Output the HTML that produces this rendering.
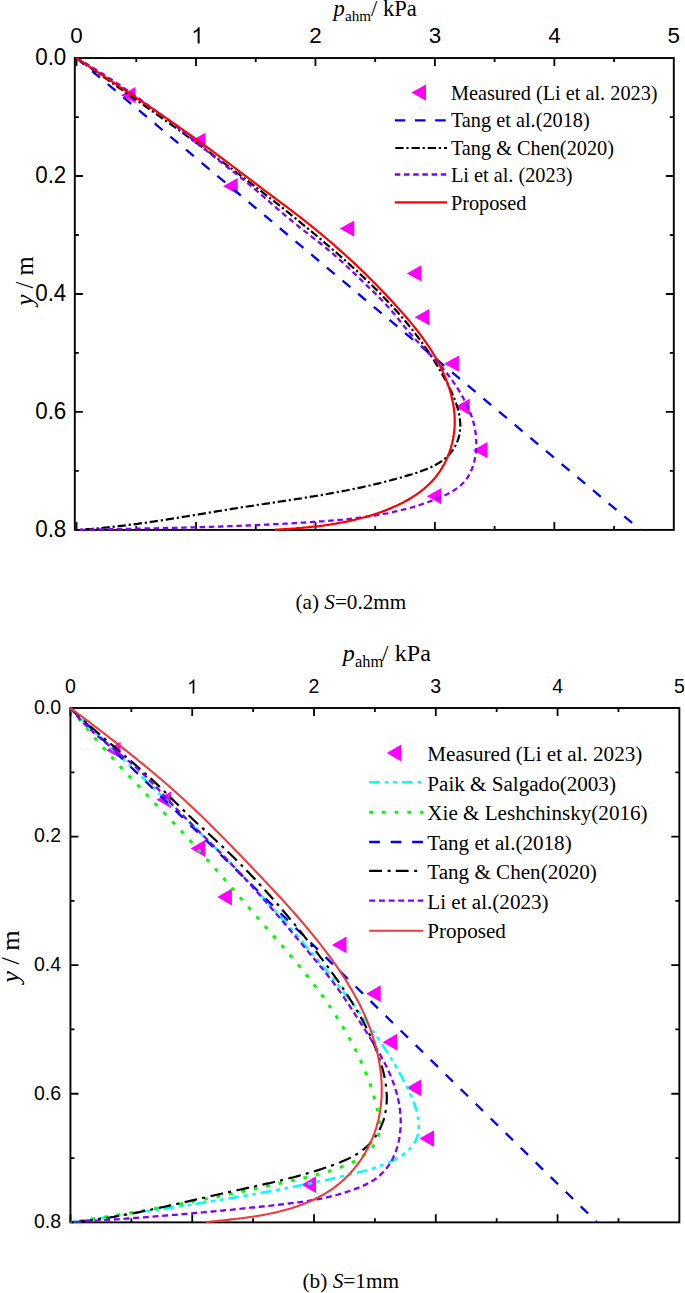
<!DOCTYPE html>
<html><head><meta charset="utf-8"><style>
html,body{margin:0;padding:0;background:#fff;width:685px;height:1293px;overflow:hidden}
svg{display:block}
.s{font-family:"Liberation Sans",sans-serif;fill:#000}
.r{font-family:"Liberation Serif",serif;fill:#000}
</style></head><body>
<svg width="685" height="1293" viewBox="0 0 685 1293">
<rect x="74.8" y="58.05" width="599" height="471.85" fill="none" stroke="#000" stroke-width="1.9"/>
<path d="M76.55 58.05v8M76.55 529.9v-8M136.28 58.05v4M136.28 529.9v-4M196 58.05v8M196 529.9v-8M255.73 58.05v4M255.73 529.9v-4M315.45 58.05v8M315.45 529.9v-8M375.18 58.05v4M375.18 529.9v-4M434.9 58.05v8M434.9 529.9v-8M494.62 58.05v4M494.62 529.9v-4M554.35 58.05v8M554.35 529.9v-8M614.07 58.05v4M614.07 529.9v-4M74.8 117.03h4M673.8 117.03h-4M74.8 176.01h8M673.8 176.01h-8M74.8 234.99h4M673.8 234.99h-4M74.8 293.98h8M673.8 293.98h-8M74.8 352.96h4M673.8 352.96h-4M74.8 411.94h8M673.8 411.94h-8M74.8 470.92h4M673.8 470.92h-4" stroke="#000" stroke-width="1.80" fill="none"/>
<text transform="translate(76.55 43.4) scale(1 1.0)" text-anchor="middle" class="s" font-size="22.4">0</text>
<path transform="translate(191.27 43.4) scale(0.01094 -0.01094)" d="M763 0H583V1147Q518 1085 412.5 1023Q307 961 223 930V1104Q374 1175 487 1276Q600 1377 647 1472H763V0Z"/>
<text transform="translate(315.45 43.4) scale(1 1.0)" text-anchor="middle" class="s" font-size="22.4">2</text>
<text transform="translate(434.9 43.4) scale(1 1.0)" text-anchor="middle" class="s" font-size="22.4">3</text>
<text transform="translate(554.35 43.4) scale(1 1.0)" text-anchor="middle" class="s" font-size="22.4">4</text>
<text transform="translate(673.8 43.4) scale(1 1.0)" text-anchor="middle" class="s" font-size="22.4">5</text>
<text transform="translate(66.3 64.95) scale(1 1.08)" text-anchor="end" class="s" font-size="22.4">0.0</text>
<text transform="translate(66.3 182.91) scale(1 1.08)" text-anchor="end" class="s" font-size="22.4">0.2</text>
<text transform="translate(66.3 300.88) scale(1 1.08)" text-anchor="end" class="s" font-size="22.4">0.4</text>
<text transform="translate(66.3 418.84) scale(1 1.08)" text-anchor="end" class="s" font-size="22.4">0.6</text>
<text transform="translate(66.3 536.8) scale(1 1.08)" text-anchor="end" class="s" font-size="22.4">0.8</text>
<rect x="70.45" y="708" width="608.9" height="514.35" fill="none" stroke="#000" stroke-width="1.9"/>
<path d="M70.45 708v8M70.45 1222.35v-8M131.34 708v4M131.34 1222.35v-4M192.23 708v8M192.23 1222.35v-8M253.12 708v4M253.12 1222.35v-4M314.01 708v8M314.01 1222.35v-8M374.9 708v4M374.9 1222.35v-4M435.79 708v8M435.79 1222.35v-8M496.68 708v4M496.68 1222.35v-4M557.57 708v8M557.57 1222.35v-8M618.46 708v4M618.46 1222.35v-4M70.45 772.29h4M679.35 772.29h-4M70.45 836.59h8M679.35 836.59h-8M70.45 900.88h4M679.35 900.88h-4M70.45 965.17h8M679.35 965.17h-8M70.45 1029.47h4M679.35 1029.47h-4M70.45 1093.76h8M679.35 1093.76h-8M70.45 1158.06h4M679.35 1158.06h-4" stroke="#000" stroke-width="1.80" fill="none"/>
<text transform="translate(70.45 693.4) scale(1 1.0)" text-anchor="middle" class="s" font-size="19.5">0</text>
<path transform="translate(187.11 693.4) scale(0.00952 -0.00952)" d="M763 0H583V1147Q518 1085 412.5 1023Q307 961 223 930V1104Q374 1175 487 1276Q600 1377 647 1472H763V0Z"/>
<text transform="translate(314.01 693.4) scale(1 1.0)" text-anchor="middle" class="s" font-size="19.5">2</text>
<text transform="translate(435.79 693.4) scale(1 1.0)" text-anchor="middle" class="s" font-size="19.5">3</text>
<text transform="translate(557.57 693.4) scale(1 1.0)" text-anchor="middle" class="s" font-size="19.5">4</text>
<text transform="translate(679.35 693.4) scale(1 1.0)" text-anchor="middle" class="s" font-size="19.5">5</text>
<text transform="translate(61 713.8) scale(1 1.0)" text-anchor="end" class="s" font-size="19.5">0.0</text>
<text transform="translate(61 842.39) scale(1 1.0)" text-anchor="end" class="s" font-size="19.5">0.2</text>
<text transform="translate(61 970.97) scale(1 1.0)" text-anchor="end" class="s" font-size="19.5">0.4</text>
<text transform="translate(61 1099.56) scale(1 1.0)" text-anchor="end" class="s" font-size="19.5">0.6</text>
<text transform="translate(61 1228.15) scale(1 1.0)" text-anchor="end" class="s" font-size="19.5">0.8</text>
<text x="333.5" y="15.8" class="r" font-size="22.6" font-style="italic">p</text>
<text x="345" y="21.4" class="r" font-size="15.2">ahm</text>
<text x="371" y="15.8" class="r" font-size="22.6">/</text>
<text x="383" y="15.8" class="r" font-size="22.6">kPa</text>
<text x="342.8" y="660.6" class="r" font-size="24.1" font-style="italic">p</text>
<text x="355" y="666.5" class="r" font-size="16.4">ahm</text>
<text x="381.7" y="660.6" class="r" font-size="24.1">/</text>
<text x="394.7" y="660.6" class="r" font-size="24.1">kPa</text>
<text transform="translate(32.8 281) rotate(-90)" text-anchor="middle" class="r" font-size="24.5"><tspan font-style="italic">y</tspan> / m</text>
<text transform="translate(19 956.5) rotate(-90)" text-anchor="middle" class="r" font-size="26.2"><tspan font-style="italic">y</tspan> / m</text>
<text x="295.5" y="608.9" class="r" font-size="21.2">(a) <tspan font-style="italic">S</tspan>=0.2mm</text>
<text x="302.5" y="1288.2" class="r" font-size="21.3">(b) <tspan font-style="italic">S</tspan>=1mm</text>
<text x="450.9" y="100" class="r" font-size="20.3">Measured (Li et al. 2023)</text>
<text x="450.9" y="127.38" class="r" font-size="20.3">Tang et al.(2018)</text>
<text x="450.9" y="154.76" class="r" font-size="20.3">Tang &amp; Chen(2020)</text>
<text x="450.9" y="182.14" class="r" font-size="20.3">Li et al. (2023)</text>
<text x="450.9" y="209.52" class="r" font-size="20.3">Proposed</text>
<text x="427.3" y="761.3" class="r" font-size="21.1">Measured (Li et al. 2023)</text>
<text x="427.3" y="790.78" class="r" font-size="21.1">Paik &amp; Salgado(2003)</text>
<text x="427.3" y="820.26" class="r" font-size="21.1">Xie &amp; Leshchinsky(2016)</text>
<text x="427.3" y="849.74" class="r" font-size="21.1">Tang et al.(2018)</text>
<text x="427.3" y="879.22" class="r" font-size="21.1">Tang &amp; Chen(2020)</text>
<text x="427.3" y="908.7" class="r" font-size="21.1">Li et al.(2023)</text>
<text x="427.3" y="938.18" class="r" font-size="21.1">Proposed</text>
<path d="M120.9 95.2L135.5 87.05L135.5 103.35ZM190.9 140.8L205.5 132.65L205.5 148.95ZM223.1 186.2L237.7 178.05L237.7 194.35ZM339.7 228.6L354.3 220.45L354.3 236.75ZM406.8 273.4L421.4 265.25L421.4 281.55ZM414.7 317.2L429.3 309.05L429.3 325.35ZM444.3 363.7L458.9 355.55L458.9 371.85ZM455.2 406.8L469.8 398.65L469.8 414.95ZM472.9 450.2L487.5 442.05L487.5 458.35ZM426.8 496.2L441.4 488.05L441.4 504.35Z" fill="#FF00FF"/>
<path d="M76.6 58.1L640.5 530" fill="none" stroke="#0000FF" stroke-width="2.3" stroke-dasharray="10.2 10.21" stroke-dashoffset="0.2" stroke-linecap="butt"/>
<path d="M76.6,58.1 78.6,59.5 80.5,60.9 82.5,62.2 84.5,63.6 86.4,65.0 88.4,66.4 90.4,67.7 92.3,69.1 94.3,70.5 96.3,71.9 98.2,73.2 100.2,74.6 102.2,76.0 104.1,77.4 106.1,78.7 108.1,80.1 110.0,81.5 112.0,82.9 113.9,84.2 115.9,85.6 117.9,87.0 119.8,88.4 121.8,89.7 123.8,91.1 125.7,92.5 127.7,93.9 129.7,95.3 131.6,96.6 133.6,98.0 135.6,99.4 137.5,100.8 139.5,102.2 141.4,103.5 143.4,104.9 145.4,106.3 147.3,107.7 149.3,109.1 151.2,110.5 153.2,111.8 155.2,113.2 157.1,114.6 159.1,116.0 161.0,117.4 163.0,118.8 164.9,120.2 166.9,121.6 168.8,123.0 170.8,124.3 172.7,125.7 174.7,127.1 176.7,128.5 178.6,129.9 180.6,131.3 182.5,132.7 184.4,134.1 186.4,135.5 188.3,136.9 190.3,138.3 192.2,139.7 194.2,141.2 196.1,142.6 198.1,144.0 200.0,145.4 201.9,146.8 203.9,148.2 205.8,149.6 207.7,151.0 209.7,152.5 211.6,153.9 213.5,155.3 215.5,156.7 217.4,158.1 219.3,159.6 221.3,161.0 223.2,162.4 225.1,163.9 227.0,165.3 229.0,166.7 230.9,168.2 232.8,169.6 234.7,171.0 236.6,172.5 238.6,173.9 240.5,175.4 242.4,176.8 244.3,178.3 246.2,179.7 248.1,181.2 250.0,182.6 251.9,184.1 253.8,185.5 255.7,187.0 257.6,188.5 259.5,189.9 261.4,191.4 263.3,192.9 265.2,194.3 267.1,195.8 269.0,197.3 270.9,198.8 272.8,200.2 274.7,201.7 276.5,203.2 278.4,204.7 280.3,206.2 282.2,207.7 284.1,209.2 285.9,210.7 287.8,212.2 289.7,213.7 291.5,215.2 293.4,216.7 295.3,218.2 297.1,219.7 299.0,221.2 300.9,222.8 302.7,224.3 304.6,225.8 306.4,227.3 308.3,228.9 310.1,230.4 312.0,231.9 313.8,233.5 315.7,235.0 317.5,236.6 319.3,238.1 321.2,239.6 323.0,241.2 324.8,242.8 326.7,244.3 328.5,245.9 330.3,247.4 332.1,249.0 333.9,250.6 335.8,252.2 337.6,253.7 339.4,255.3 341.2,256.9 343.0,258.5 344.8,260.1 346.6,261.7 348.4,263.3 350.2,264.9 351.9,266.5 353.7,268.1 355.5,269.8 357.3,271.4 359.0,273.0 360.8,274.7 362.5,276.3 364.3,277.9 366.0,279.6 367.7,281.3 369.5,282.9 371.2,284.6 372.9,286.3 374.6,288.0 376.3,289.6 378.0,291.3 379.7,293.0 381.4,294.8 383.0,296.5 384.7,298.2 386.3,299.9 388.0,301.7 389.6,303.4 391.2,305.2 392.9,306.9 394.5,308.7 396.1,310.5 397.7,312.3 399.2,314.1 400.8,315.9 402.4,317.7 403.9,319.5 405.4,321.3 407.0,323.2 408.5,325.0 410.0,326.9 411.5,328.7 413.0,330.6 414.4,332.5 415.9,334.4 417.3,336.3 418.8,338.2 420.2,340.1 421.6,342.0 423.0,344.0 424.4,345.9 425.7,347.9 427.1,349.9 428.4,351.9 429.8,353.9 431.1,355.9 432.4,357.9 433.7,359.9 434.9,361.9 436.2,364.0 437.4,366.0 438.7,368.1 439.9,370.1 441.1,372.2 442.3,374.3 443.4,376.4 444.6,378.5 445.7,380.6 446.9,382.7 448.0,384.8 449.1,387.0 450.1,389.1 451.2,391.3 452.2,393.5 453.1,395.8 454.1,398.0 455.0,400.3 455.8,402.6 456.6,404.9 457.4,407.2 458.1,409.6 458.6,412.0 459.2,414.3 459.6,416.7 459.9,419.1 460.1,421.5 460.3,423.9 460.3,426.3 460.2,428.7 459.9,431.1 459.6,433.5 459.1,435.8 458.5,438.1 457.8,440.3 456.9,442.5 456.0,444.7 454.9,446.7 453.7,448.7 452.4,450.7 450.9,452.5 449.4,454.3 447.9,455.9 446.2,457.5 444.4,459.0 442.6,460.4 440.7,461.8 438.7,463.0 436.7,464.2 434.7,465.4 432.5,466.4 430.4,467.5 428.2,468.4 425.9,469.4 423.6,470.2 421.3,471.1 419.0,471.9 416.7,472.7 414.3,473.4 412.0,474.2 409.6,474.9 407.3,475.6 404.9,476.3 402.5,477.0 400.2,477.7 397.8,478.3 395.5,479.0 393.1,479.6 390.8,480.3 388.4,480.9 386.0,481.5 383.7,482.1 381.3,482.7 379.0,483.3 376.6,483.8 374.3,484.4 371.9,484.9 369.6,485.5 367.2,486.0 364.9,486.5 362.5,487.1 360.2,487.6 357.8,488.1 355.5,488.6 353.1,489.0 350.8,489.5 348.4,490.0 346.1,490.5 343.7,490.9 341.4,491.4 339.0,491.8 336.7,492.3 334.3,492.7 332.0,493.1 329.6,493.5 327.3,494.0 324.9,494.4 322.6,494.8 320.2,495.2 317.9,495.6 315.5,496.0 313.2,496.4 310.8,496.7 308.5,497.1 306.1,497.5 303.8,497.9 301.4,498.3 299.1,498.6 296.7,499.0 294.4,499.4 292.0,499.7 289.7,500.1 287.3,500.4 285.0,500.8 282.6,501.2 280.3,501.5 277.9,501.9 275.6,502.2 273.2,502.6 270.9,502.9 268.5,503.3 266.1,503.6 263.8,504.0 261.4,504.3 259.1,504.7 256.7,505.1 254.3,505.4 252.0,505.8 249.6,506.1 247.3,506.5 244.9,506.9 242.5,507.2 240.2,507.6 237.8,508.0 235.4,508.4 233.1,508.7 230.7,509.1 228.3,509.5 226.0,509.9 223.6,510.3 221.2,510.7 218.8,511.0 216.5,511.4 214.1,511.8 211.7,512.2 209.3,512.6 207.0,513.0 204.6,513.4 202.2,513.8 199.8,514.2 197.5,514.6 195.1,515.0 192.7,515.4 190.3,515.7 187.9,516.1 185.6,516.5 183.2,516.9 180.8,517.3 178.4,517.7 176.0,518.1 173.6,518.4 171.3,518.8 168.9,519.2 166.5,519.6 164.1,519.9 161.7,520.3 159.4,520.7 157.0,521.0 154.6,521.4 152.2,521.7 149.8,522.1 147.4,522.4 145.0,522.8 142.7,523.1 140.3,523.4 137.9,523.8 135.5,524.1 133.1,524.4 130.7,524.7 128.4,525.0 126.0,525.3 123.6,525.6 121.2,525.9 118.8,526.2 116.4,526.5 114.1,526.7 111.7,527.0 109.3,527.2 106.9,527.5 104.5,527.7 102.2,528.0 99.8,528.2 97.4,528.4 95.0,528.6 92.6,528.8 90.3,529.0 87.9,529.2 85.5,529.4 83.1,529.5 80.8,529.7 78.4,529.9 76.0,530.0" fill="none" stroke="#000" stroke-width="2.2" stroke-dasharray="8.3 2.8 2.2 2.9" stroke-linecap="butt" stroke-linejoin="round"/>
<path d="M76.6,58.1 78.8,59.4 81.0,60.6 83.1,61.9 85.3,63.2 87.5,64.5 89.6,65.8 91.8,67.1 93.9,68.4 96.1,69.8 98.2,71.1 100.3,72.4 102.5,73.8 104.6,75.1 106.7,76.5 108.8,77.9 110.9,79.2 113.0,80.6 115.1,82.0 117.2,83.4 119.3,84.8 121.4,86.2 123.4,87.6 125.5,89.1 127.6,90.5 129.6,91.9 131.7,93.4 133.7,94.8 135.8,96.3 137.8,97.7 139.9,99.2 141.9,100.6 144.0,102.1 146.0,103.6 148.0,105.1 150.0,106.6 152.1,108.1 154.1,109.6 156.1,111.1 158.1,112.6 160.1,114.1 162.1,115.6 164.1,117.1 166.1,118.6 168.1,120.2 170.1,121.7 172.1,123.2 174.1,124.8 176.1,126.3 178.0,127.9 180.0,129.4 182.0,131.0 184.0,132.5 185.9,134.1 187.9,135.7 189.9,137.2 191.8,138.8 193.8,140.4 195.8,141.9 197.7,143.5 199.7,145.1 201.6,146.7 203.6,148.3 205.5,149.9 207.5,151.4 209.4,153.0 211.4,154.6 213.3,156.2 215.3,157.7 217.3,159.3 219.3,160.8 221.3,162.4 223.3,163.9 225.3,165.4 227.2,167.0 229.2,168.5 231.2,170.0 233.2,171.6 235.2,173.1 237.2,174.7 239.2,176.2 241.1,177.8 243.1,179.4 245.0,181.0 247.0,182.6 248.9,184.2 250.8,185.8 252.7,187.4 254.7,189.1 256.6,190.7 258.5,192.3 260.4,194.0 262.3,195.6 264.2,197.2 266.1,198.9 268.0,200.5 269.9,202.2 271.8,203.8 273.7,205.5 275.6,207.1 277.5,208.8 279.4,210.4 281.3,212.0 283.2,213.7 285.1,215.3 287.1,216.9 289.0,218.5 290.9,220.1 292.8,221.7 294.8,223.3 296.7,224.9 298.7,226.5 300.6,228.1 302.6,229.6 304.6,231.2 306.6,232.7 308.5,234.2 310.5,235.8 312.5,237.3 314.5,238.8 316.5,240.4 318.5,241.9 320.5,243.5 322.4,245.0 324.4,246.6 326.3,248.2 328.3,249.8 330.2,251.4 332.1,253.0 334.0,254.6 335.9,256.3 337.8,258.0 339.6,259.6 341.5,261.3 343.3,263.0 345.2,264.7 347.0,266.5 348.8,268.2 350.7,269.9 352.5,271.7 354.3,273.4 356.1,275.2 357.9,276.9 359.7,278.6 361.6,280.4 363.4,282.1 365.2,283.9 367.0,285.6 368.8,287.4 370.7,289.1 372.5,290.9 374.3,292.6 376.1,294.4 377.8,296.2 379.6,297.9 381.4,299.7 383.1,301.5 384.8,303.4 386.6,305.2 388.2,307.0 389.9,308.9 391.6,310.8 393.2,312.7 394.8,314.6 396.4,316.6 398.0,318.5 399.5,320.5 401.1,322.4 402.7,324.4 404.2,326.4 405.8,328.3 407.4,330.2 409.0,332.2 410.6,334.1 412.3,335.9 414.0,337.8 415.7,339.7 417.4,341.5 419.1,343.3 420.8,345.1 422.6,346.9 424.3,348.7 426.1,350.5 427.9,352.3 429.6,354.1 431.4,355.9 433.1,357.7 434.8,359.5 436.6,361.3 438.3,363.2 440.0,365.0 441.6,366.9 443.2,368.8 444.9,370.8 446.4,372.7 448.0,374.7 449.5,376.7 451.0,378.7 452.5,380.8 453.9,382.9 455.3,385.0 456.7,387.1 458.1,389.2 459.4,391.3 460.7,393.5 461.9,395.7 463.2,397.9 464.3,400.1 465.5,402.3 466.6,404.5 467.7,406.8 468.7,409.1 469.7,411.4 470.6,413.7 471.5,416.0 472.3,418.4 473.0,420.8 473.7,423.2 474.3,425.6 474.8,428.1 475.2,430.6 475.6,433.1 475.9,435.7 476.1,438.2 476.2,440.7 476.3,443.3 476.3,445.8 476.2,448.4 476.0,451.0 475.7,453.5 475.3,456.1 474.9,458.6 474.4,461.1 473.7,463.5 473.0,466.0 472.2,468.3 471.2,470.6 470.2,472.9 469.0,475.1 467.8,477.1 466.4,479.1 464.9,481.0 463.3,482.8 461.6,484.5 459.7,486.2 457.8,487.7 455.8,489.1 453.8,490.5 451.6,491.8 449.4,493.0 447.2,494.2 444.9,495.3 442.6,496.4 440.2,497.4 437.9,498.4 435.5,499.3 433.1,500.3 430.7,501.2 428.3,502.0 425.9,502.9 423.5,503.7 421.1,504.5 418.7,505.3 416.3,506.0 413.9,506.8 411.5,507.5 409.1,508.1 406.6,508.8 404.2,509.4 401.7,510.0 399.3,510.6 396.9,511.2 394.4,511.7 392.0,512.3 389.5,512.8 387.0,513.3 384.6,513.7 382.1,514.2 379.6,514.6 377.2,515.1 374.7,515.5 372.2,515.9 369.7,516.2 367.2,516.6 364.8,517.0 362.3,517.3 359.8,517.6 357.3,517.9 354.8,518.2 352.3,518.5 349.8,518.8 347.3,519.1 344.8,519.3 342.3,519.6 339.8,519.8 337.3,520.0 334.8,520.2 332.3,520.5 329.8,520.7 327.3,520.9 324.8,521.1 322.3,521.3 319.7,521.4 317.2,521.6 314.7,521.8 312.2,522.0 309.7,522.1 307.2,522.3 304.7,522.5 302.2,522.6 299.7,522.8 297.2,523.0 294.6,523.1 292.1,523.3 289.6,523.4 287.1,523.6 284.6,523.7 282.1,523.8 279.6,524.0 277.1,524.1 274.6,524.2 272.0,524.4 269.5,524.5 267.0,524.6 264.5,524.7 262.0,524.9 259.5,525.0 257.0,525.1 254.5,525.2 251.9,525.3 249.4,525.4 246.9,525.5 244.4,525.6 241.9,525.7 239.4,525.8 236.9,525.9 234.4,526.0 231.8,526.1 229.3,526.2 226.8,526.3 224.3,526.4 221.8,526.5 219.3,526.6 216.8,526.6 214.3,526.7 211.7,526.8 209.2,526.9 206.7,527.0 204.2,527.0 201.7,527.1 199.2,527.2 196.7,527.3 194.1,527.3 191.6,527.4 189.1,527.5 186.6,527.5 184.1,527.6 181.6,527.7 179.1,527.7 176.6,527.8 174.0,527.8 171.5,527.9 169.0,528.0 166.5,528.0 164.0,528.1 161.5,528.1 159.0,528.2 156.4,528.3 153.9,528.3 151.4,528.4 148.9,528.4 146.4,528.5 143.9,528.5 141.4,528.6 138.8,528.6 136.3,528.7 133.8,528.8 131.3,528.8 128.8,528.9 126.3,528.9 123.8,529.0 121.2,529.0 118.7,529.1 116.2,529.1 113.7,529.2 111.2,529.2 108.7,529.3 106.2,529.3 103.7,529.4 101.1,529.4 98.6,529.5 96.1,529.5 93.6,529.6 91.1,529.7 88.6,529.7 86.1,529.8 83.5,529.8 81.0,529.9 78.5,529.9 76.0,530.0" fill="none" stroke="#8000FF" stroke-width="2.3" stroke-dasharray="5.5 3.7" stroke-linecap="butt" stroke-linejoin="round"/>
<path d="M76.6,58.1 78.2,59.2 79.8,60.2 81.4,61.3 83.0,62.4 84.7,63.4 86.3,64.5 87.9,65.6 89.5,66.6 91.1,67.7 92.7,68.8 94.3,69.9 95.9,70.9 97.5,72.0 99.2,73.1 100.8,74.1 102.4,75.2 104.0,76.3 105.6,77.3 107.2,78.4 108.8,79.5 110.4,80.5 112.1,81.6 113.7,82.7 115.3,83.7 116.9,84.8 118.5,85.9 120.1,87.0 121.7,88.0 123.3,89.1 124.9,90.2 126.5,91.3 128.2,92.3 129.8,93.4 131.4,94.5 133.0,95.6 134.6,96.6 136.2,97.7 137.8,98.8 139.4,99.9 141.0,101.0 142.6,102.0 144.2,103.1 145.8,104.2 147.4,105.3 149.0,106.4 150.6,107.5 152.2,108.5 153.8,109.6 155.4,110.7 157.0,111.8 158.6,112.9 160.2,114.0 161.8,115.1 163.4,116.2 165.0,117.3 166.6,118.4 168.2,119.5 169.8,120.6 171.3,121.7 172.9,122.8 174.5,123.9 176.1,125.0 177.7,126.1 179.3,127.2 180.8,128.3 182.4,129.4 184.0,130.6 185.6,131.7 187.2,132.8 188.7,133.9 190.3,135.0 191.9,136.2 193.5,137.3 195.0,138.4 196.6,139.5 198.2,140.7 199.7,141.8 201.3,142.9 202.8,144.1 204.4,145.2 206.0,146.4 207.5,147.5 209.1,148.6 210.6,149.8 212.2,150.9 213.7,152.1 215.3,153.2 216.8,154.4 218.4,155.5 219.9,156.7 221.5,157.9 223.0,159.0 224.6,160.2 226.1,161.3 227.7,162.5 229.2,163.7 230.8,164.8 232.3,166.0 233.8,167.2 235.4,168.3 236.9,169.5 238.5,170.6 240.0,171.8 241.5,173.0 243.1,174.2 244.6,175.3 246.2,176.5 247.7,177.7 249.3,178.8 250.8,180.0 252.3,181.2 253.9,182.3 255.4,183.5 257.0,184.7 258.5,185.8 260.1,187.0 261.6,188.2 263.1,189.3 264.7,190.5 266.2,191.7 267.8,192.8 269.3,194.0 270.9,195.1 272.4,196.3 274.0,197.5 275.5,198.6 277.1,199.8 278.7,200.9 280.2,202.1 281.8,203.3 283.3,204.4 284.9,205.6 286.4,206.7 288.0,207.9 289.5,209.1 291.1,210.2 292.6,211.4 294.1,212.6 295.7,213.8 297.2,214.9 298.8,216.1 300.3,217.3 301.8,218.5 303.3,219.7 304.9,220.9 306.4,222.1 307.9,223.3 309.4,224.5 310.9,225.7 312.4,226.9 313.9,228.1 315.4,229.3 316.9,230.6 318.4,231.8 319.9,233.0 321.4,234.2 322.9,235.5 324.3,236.7 325.8,238.0 327.3,239.2 328.7,240.5 330.2,241.7 331.7,243.0 333.1,244.2 334.6,245.5 336.0,246.8 337.5,248.1 338.9,249.3 340.4,250.6 341.8,251.9 343.3,253.2 344.7,254.5 346.1,255.8 347.5,257.1 349.0,258.4 350.4,259.7 351.8,261.0 353.2,262.3 354.6,263.6 356.0,264.9 357.4,266.3 358.8,267.6 360.2,268.9 361.6,270.3 363.0,271.6 364.4,272.9 365.8,274.3 367.1,275.6 368.5,277.0 369.9,278.4 371.3,279.7 372.6,281.1 374.0,282.5 375.3,283.8 376.7,285.2 378.0,286.6 379.4,288.0 380.7,289.4 382.1,290.8 383.4,292.2 384.8,293.6 386.1,295.0 387.4,296.4 388.7,297.8 390.1,299.2 391.4,300.6 392.7,302.0 394.0,303.5 395.3,304.9 396.6,306.3 397.9,307.8 399.2,309.2 400.5,310.7 401.8,312.1 403.1,313.6 404.4,315.0 405.6,316.5 406.9,318.0 408.1,319.5 409.4,320.9 410.6,322.4 411.9,323.9 413.1,325.4 414.3,326.9 415.5,328.5 416.7,330.0 417.9,331.5 419.1,333.0 420.3,334.6 421.4,336.1 422.6,337.7 423.7,339.3 424.8,340.8 425.9,342.4 427.0,344.0 428.1,345.6 429.2,347.2 430.2,348.8 431.3,350.5 432.3,352.1 433.3,353.8 434.3,355.4 435.3,357.1 436.2,358.8 437.2,360.5 438.1,362.2 439.0,363.9 439.9,365.6 440.7,367.3 441.6,369.1 442.4,370.8 443.2,372.6 444.0,374.4 444.8,376.2 445.5,378.0 446.2,379.8 446.9,381.6 447.6,383.4 448.3,385.3 448.9,387.1 449.5,389.0 450.0,390.8 450.6,392.7 451.1,394.6 451.6,396.5 452.0,398.4 452.4,400.3 452.8,402.2 453.2,404.1 453.5,406.0 453.8,407.9 454.0,409.8 454.2,411.8 454.4,413.7 454.6,415.6 454.7,417.5 454.7,419.5 454.7,421.4 454.7,423.3 454.7,425.3 454.6,427.2 454.4,429.1 454.2,431.0 454.0,433.0 453.7,434.9 453.4,436.8 453.1,438.7 452.7,440.6 452.3,442.5 451.8,444.3 451.3,446.2 450.8,448.1 450.2,449.9 449.6,451.7 449.0,453.5 448.3,455.3 447.5,457.1 446.8,458.8 446.0,460.6 445.1,462.3 444.3,464.0 443.3,465.6 442.4,467.3 441.4,468.9 440.4,470.5 439.3,472.1 438.2,473.6 437.1,475.2 435.9,476.7 434.7,478.1 433.5,479.5 432.2,480.9 430.9,482.3 429.6,483.7 428.2,485.0 426.8,486.3 425.4,487.5 423.9,488.8 422.4,490.0 420.9,491.2 419.4,492.3 417.9,493.5 416.3,494.6 414.7,495.6 413.0,496.7 411.4,497.7 409.7,498.7 408.1,499.7 406.4,500.7 404.6,501.6 402.9,502.6 401.2,503.5 399.4,504.3 397.6,505.2 395.8,506.0 394.0,506.8 392.2,507.6 390.4,508.4 388.6,509.1 386.7,509.9 384.9,510.6 383.0,511.3 381.2,512.0 379.3,512.6 377.5,513.3 375.6,513.9 373.7,514.5 371.9,515.1 370.0,515.7 368.1,516.2 366.2,516.8 364.4,517.3 362.5,517.8 360.6,518.3 358.7,518.8 356.8,519.3 355.0,519.7 353.1,520.2 351.2,520.6 349.3,521.0 347.4,521.4 345.5,521.8 343.6,522.2 341.7,522.5 339.8,522.9 337.9,523.2 336.0,523.6 334.1,523.9 332.2,524.2 330.3,524.5 328.4,524.8 326.5,525.0 324.6,525.3 322.7,525.6 320.8,525.8 318.9,526.1 317.0,526.3 315.0,526.5 313.1,526.7 311.2,526.9 309.3,527.1 307.4,527.3 305.5,527.5 303.6,527.7 301.6,527.9 299.7,528.0 297.8,528.2 295.9,528.4 294.0,528.5 292.0,528.7 290.1,528.8 288.2,528.9 286.3,529.1 284.3,529.2 282.4,529.3 280.5,529.4 278.6,529.6 276.6,529.7 274.7,529.8" fill="none" stroke="#FF0000" stroke-width="2.2" stroke-linecap="butt" stroke-linejoin="round"/>
<path d="M411.4 92.55L426 84.4L426 100.7Z" fill="#FF00FF"/>
<path d="M394.8 120.3L447 120.3" fill="none" stroke="#0000FF" stroke-width="2.3" stroke-dasharray="10.5 9.7" stroke-linecap="butt"/>
<path d="M395.3 148L447 148" fill="none" stroke="#000" stroke-width="2.2" stroke-dasharray="8.3 2.8 2.2 2.9" stroke-linecap="butt"/>
<path d="M394.8 174.5L447 174.5" fill="none" stroke="#8000FF" stroke-width="2.3" stroke-dasharray="5.5 3.7" stroke-linecap="butt"/>
<path d="M394.8 202.3L447 202.3" fill="none" stroke="#FF0000" stroke-width="2.2" stroke-linecap="butt"/>
<path d="M106 750.2L120.6 741.8L120.6 758.6ZM156.5 799.8L171.1 791.4L171.1 808.2ZM190.5 848.5L205.1 840.1L205.1 856.9ZM217.3 897L231.9 888.6L231.9 905.4ZM331.9 944.9L346.5 936.5L346.5 953.3ZM366.1 993.7L380.7 985.3L380.7 1002.1ZM382.6 1042.2L397.2 1033.8L397.2 1050.6ZM406.5 1087.8L421.1 1079.4L421.1 1096.2ZM419.5 1138.6L434.1 1130.2L434.1 1147ZM301.4 1184.7L316 1176.3L316 1193.1Z" fill="#FF00FF"/>
<path d="M70.6,708.1 72.2,709.7 73.9,711.4 75.5,713.0 77.2,714.7 78.8,716.3 80.5,717.9 82.1,719.6 83.8,721.2 85.4,722.8 87.1,724.4 88.7,726.1 90.4,727.7 92.0,729.3 93.7,730.9 95.4,732.5 97.0,734.1 98.7,735.8 100.4,737.4 102.0,739.0 103.7,740.6 105.4,742.2 107.0,743.8 108.7,745.4 110.4,747.0 112.0,748.6 113.7,750.2 115.4,751.8 117.1,753.4 118.7,755.0 120.4,756.6 122.1,758.2 123.8,759.8 125.5,761.4 127.1,763.0 128.8,764.6 130.5,766.2 132.2,767.8 133.9,769.4 135.5,771.0 137.2,772.6 138.9,774.2 140.6,775.8 142.3,777.4 143.9,779.0 145.6,780.6 147.3,782.2 149.0,783.7 150.7,785.3 152.4,786.9 154.0,788.5 155.7,790.1 157.4,791.7 159.1,793.3 160.7,794.9 162.4,796.5 164.1,798.1 165.8,799.7 167.5,801.3 169.1,802.9 170.8,804.5 172.5,806.1 174.2,807.7 175.8,809.3 177.5,810.9 179.2,812.5 180.8,814.1 182.5,815.7 184.2,817.3 185.9,818.9 187.5,820.5 189.2,822.1 190.8,823.8 192.5,825.4 194.2,827.0 195.8,828.6 197.5,830.2 199.1,831.8 200.8,833.5 202.5,835.1 204.1,836.7 205.8,838.3 207.4,840.0 209.0,841.6 210.7,843.2 212.3,844.9 214.0,846.5 215.6,848.1 217.3,849.8 218.9,851.4 220.5,853.1 222.2,854.7 223.8,856.3 225.4,858.0 227.0,859.7 228.7,861.3 230.3,863.0 231.9,864.6 233.5,866.3 235.1,868.0 236.7,869.6 238.3,871.3 239.9,873.0 241.5,874.6 243.1,876.3 244.7,878.0 246.3,879.7 247.9,881.4 249.5,883.0 251.1,884.7 252.7,886.4 254.3,888.1 255.9,889.8 257.5,891.5 259.0,893.2 260.6,894.9 262.2,896.6 263.8,898.3 265.3,900.0 266.9,901.7 268.4,903.5 270.0,905.2 271.6,906.9 273.1,908.6 274.7,910.3 276.2,912.1 277.8,913.8 279.3,915.5 280.9,917.2 282.4,919.0 284.0,920.7 285.5,922.4 287.0,924.2 288.6,925.9 290.1,927.7 291.6,929.4 293.1,931.2 294.7,932.9 296.2,934.7 297.7,936.4 299.2,938.2 300.7,939.9 302.2,941.7 303.7,943.5 305.2,945.2 306.7,947.0 308.2,948.8 309.7,950.5 311.2,952.3 312.7,954.1 314.2,955.9 315.7,957.6 317.2,959.4 318.6,961.2 320.1,963.0 321.6,964.8 323.1,966.6 324.5,968.3 326.0,970.1 327.5,971.9 328.9,973.7 330.4,975.5 331.8,977.3 333.3,979.1 334.7,980.9 336.2,982.7 337.6,984.6 339.1,986.4 340.5,988.2 342.0,990.0 343.4,991.8 344.8,993.6 346.3,995.4 347.7,997.3 349.1,999.1 350.5,1000.9 351.9,1002.7 353.4,1004.6 354.8,1006.4 356.2,1008.2 357.6,1010.1 359.0,1011.9 360.4,1013.8 361.7,1015.6 363.1,1017.5 364.5,1019.3 365.9,1021.2 367.2,1023.0 368.6,1024.9 369.9,1026.8 371.3,1028.7 372.6,1030.5 374.0,1032.4 375.3,1034.3 376.6,1036.2 377.9,1038.1 379.2,1040.0 380.5,1042.0 381.8,1043.9 383.1,1045.8 384.3,1047.8 385.6,1049.7 386.8,1051.7 388.1,1053.6 389.3,1055.6 390.5,1057.6 391.7,1059.5 392.9,1061.5 394.1,1063.5 395.3,1065.5 396.5,1067.5 397.6,1069.6 398.8,1071.6 399.9,1073.6 401.0,1075.7 402.1,1077.7 403.2,1079.8 404.3,1081.9 405.4,1084.0 406.4,1086.1 407.5,1088.2 408.5,1090.3 409.5,1092.4 410.5,1094.6 411.5,1096.7 412.4,1098.9 413.3,1101.1 414.1,1103.3 414.9,1105.5 415.6,1107.7 416.3,1109.9 416.9,1112.2 417.4,1114.5 417.9,1116.7 418.2,1119.0 418.5,1121.4 418.7,1123.7 418.7,1126.0 418.7,1128.3 418.5,1130.6 418.2,1132.8 417.7,1135.0 417.1,1137.1 416.4,1139.1 415.4,1141.1 414.4,1143.0 413.2,1144.8 411.9,1146.5 410.4,1148.2 408.9,1149.8 407.2,1151.3 405.5,1152.8 403.6,1154.2 401.7,1155.5 399.7,1156.8 397.7,1158.0 395.6,1159.1 393.4,1160.2 391.3,1161.3 389.1,1162.3 386.9,1163.2 384.7,1164.2 382.5,1165.0 380.3,1165.9 378.0,1166.7 375.8,1167.4 373.6,1168.2 371.4,1168.9 369.2,1169.5 366.9,1170.2 364.7,1170.8 362.5,1171.4 360.2,1172.0 358.0,1172.6 355.8,1173.1 353.5,1173.7 351.3,1174.2 349.1,1174.8 346.8,1175.3 344.6,1175.8 342.3,1176.3 340.1,1176.8 337.8,1177.3 335.6,1177.9 333.3,1178.4 331.1,1178.9 328.8,1179.4 326.6,1179.9 324.3,1180.4 322.1,1180.8 319.8,1181.3 317.5,1181.8 315.3,1182.3 313.0,1182.8 310.8,1183.2 308.5,1183.7 306.2,1184.2 304.0,1184.6 301.7,1185.1 299.4,1185.6 297.2,1186.0 294.9,1186.5 292.6,1186.9 290.4,1187.4 288.1,1187.8 285.8,1188.2 283.6,1188.7 281.3,1189.1 279.0,1189.5 276.7,1190.0 274.5,1190.4 272.2,1190.8 269.9,1191.3 267.6,1191.7 265.3,1192.1 263.1,1192.5 260.8,1192.9 258.5,1193.3 256.2,1193.7 253.9,1194.2 251.7,1194.6 249.4,1195.0 247.1,1195.4 244.8,1195.8 242.5,1196.2 240.2,1196.5 237.9,1196.9 235.7,1197.3 233.4,1197.7 231.1,1198.1 228.8,1198.5 226.5,1198.9 224.2,1199.2 221.9,1199.6 219.6,1200.0 217.3,1200.4 215.0,1200.7 212.8,1201.1 210.5,1201.5 208.2,1201.9 205.9,1202.2 203.6,1202.6 201.3,1203.0 199.0,1203.3 196.7,1203.7 194.4,1204.0 192.1,1204.4 189.8,1204.8 187.5,1205.1 185.2,1205.5 182.9,1205.8 180.6,1206.2 178.3,1206.5 176.0,1206.9 173.8,1207.2 171.5,1207.6 169.2,1207.9 166.9,1208.3 164.6,1208.6 162.3,1208.9 160.0,1209.3 157.7,1209.6 155.4,1210.0 153.1,1210.3 150.8,1210.6 148.5,1211.0 146.2,1211.3 143.9,1211.7 141.6,1212.0 139.3,1212.3 137.0,1212.7 134.7,1213.0 132.4,1213.3 130.1,1213.7 127.8,1214.0 125.5,1214.3 123.3,1214.7 121.0,1215.0 118.7,1215.3 116.4,1215.7 114.1,1216.0 111.8,1216.3 109.5,1216.7 107.2,1217.0 104.9,1217.3 102.6,1217.7 100.3,1218.0 98.0,1218.3 95.8,1218.6 93.5,1219.0 91.2,1219.3 88.9,1219.6 86.6,1220.0 84.3,1220.3 82.0,1220.6 79.7,1221.0 77.5,1221.3 75.2,1221.6 72.9,1222.0 70.6,1222.3" fill="none" stroke="#00FFFF" stroke-width="2.6" stroke-dasharray="10.6 4.9 3.7 4.5 4.4 4.7" stroke-linecap="butt" stroke-linejoin="round"/>
<path d="M70.6,708.1 71.9,709.8 73.2,711.5 74.6,713.2 75.9,715.0 77.2,716.7 78.6,718.3 79.9,720.0 81.3,721.7 82.7,723.4 84.0,725.1 85.4,726.8 86.8,728.4 88.2,730.1 89.5,731.7 90.9,733.4 92.3,735.1 93.7,736.7 95.1,738.3 96.5,740.0 98.0,741.6 99.4,743.3 100.8,744.9 102.2,746.5 103.7,748.1 105.1,749.7 106.5,751.4 108.0,753.0 109.4,754.6 110.9,756.2 112.3,757.8 113.8,759.4 115.2,761.0 116.7,762.6 118.1,764.2 119.6,765.8 121.1,767.4 122.5,769.0 124.0,770.5 125.5,772.1 126.9,773.7 128.4,775.3 129.9,776.9 131.4,778.4 132.9,780.0 134.3,781.6 135.8,783.2 137.3,784.7 138.8,786.3 140.3,787.9 141.8,789.5 143.3,791.0 144.8,792.6 146.3,794.2 147.7,795.7 149.2,797.3 150.7,798.9 152.2,800.4 153.7,802.0 155.2,803.6 156.7,805.1 158.2,806.7 159.7,808.3 161.2,809.8 162.7,811.4 164.2,813.0 165.7,814.5 167.1,816.1 168.6,817.7 170.1,819.2 171.6,820.8 173.1,822.4 174.6,824.0 176.1,825.5 177.5,827.1 179.0,828.7 180.5,830.3 182.0,831.9 183.4,833.4 184.9,835.0 186.4,836.6 187.9,838.2 189.3,839.8 190.8,841.4 192.2,843.0 193.7,844.6 195.2,846.2 196.6,847.8 198.1,849.4 199.5,851.0 200.9,852.6 202.4,854.2 203.8,855.8 205.3,857.5 206.7,859.1 208.1,860.7 209.6,862.3 211.0,863.9 212.4,865.6 213.9,867.2 215.3,868.8 216.7,870.4 218.1,872.1 219.5,873.7 221.0,875.3 222.4,877.0 223.8,878.6 225.2,880.2 226.6,881.9 228.1,883.5 229.5,885.1 230.9,886.8 232.3,888.4 233.7,890.0 235.1,891.7 236.5,893.3 238.0,895.0 239.4,896.6 240.8,898.2 242.2,899.9 243.6,901.5 245.0,903.2 246.4,904.8 247.8,906.4 249.3,908.1 250.7,909.7 252.1,911.3 253.5,913.0 254.9,914.6 256.3,916.3 257.8,917.9 259.2,919.5 260.6,921.2 262.0,922.8 263.5,924.4 264.9,926.0 266.3,927.7 267.7,929.3 269.2,930.9 270.6,932.6 272.0,934.2 273.4,935.8 274.9,937.5 276.3,939.1 277.7,940.7 279.1,942.4 280.5,944.0 282.0,945.6 283.4,947.3 284.8,948.9 286.2,950.5 287.6,952.2 289.0,953.8 290.4,955.5 291.8,957.1 293.2,958.8 294.6,960.4 296.0,962.1 297.4,963.8 298.7,965.4 300.1,967.1 301.5,968.8 302.8,970.5 304.2,972.1 305.6,973.8 306.9,975.5 308.3,977.2 309.6,978.9 310.9,980.6 312.3,982.3 313.6,984.1 314.9,985.8 316.2,987.5 317.5,989.2 318.8,991.0 320.1,992.7 321.3,994.5 322.6,996.2 323.9,998.0 325.1,999.7 326.4,1001.5 327.6,1003.3 328.8,1005.1 330.1,1006.8 331.3,1008.6 332.5,1010.4 333.7,1012.2 334.8,1014.0 336.0,1015.9 337.2,1017.7 338.3,1019.5 339.5,1021.3 340.6,1023.2 341.7,1025.0 342.8,1026.9 343.9,1028.7 345.0,1030.6 346.1,1032.4 347.2,1034.3 348.2,1036.2 349.3,1038.1 350.3,1040.0 351.3,1041.9 352.3,1043.8 353.3,1045.7 354.3,1047.6 355.3,1049.5 356.2,1051.4 357.2,1053.4 358.1,1055.3 359.0,1057.3 359.9,1059.2 360.8,1061.2 361.7,1063.2 362.6,1065.1 363.4,1067.1 364.2,1069.1 365.1,1071.1 365.9,1073.1 366.7,1075.1 367.4,1077.1 368.2,1079.2 368.9,1081.2 369.7,1083.2 370.4,1085.3 371.1,1087.3 371.8,1089.4 372.4,1091.5 373.1,1093.6 373.7,1095.7 374.3,1097.8 374.9,1099.9 375.5,1102.1 376.1,1104.2 376.7,1106.4 377.2,1108.5 377.7,1110.7 378.2,1112.9 378.6,1115.1 379.0,1117.2 379.3,1119.4 379.5,1121.6 379.6,1123.7 379.7,1125.9 379.6,1128.0 379.4,1130.1 379.1,1132.1 378.7,1134.2 378.1,1136.2 377.5,1138.2 376.7,1140.1 375.8,1141.9 374.8,1143.7 373.7,1145.4 372.5,1147.1 371.2,1148.6 369.9,1150.2 368.4,1151.6 366.9,1153.0 365.3,1154.3 363.6,1155.6 361.9,1156.8 360.1,1158.0 358.2,1159.2 356.3,1160.2 354.4,1161.3 352.4,1162.3 350.4,1163.2 348.3,1164.1 346.2,1165.0 344.1,1165.9 342.0,1166.7 339.9,1167.5 337.8,1168.2 335.6,1169.0 333.5,1169.7 331.3,1170.4 329.2,1171.1 327.1,1171.7 325.0,1172.3 322.9,1173.0 320.8,1173.6 318.7,1174.2 316.6,1174.7 314.5,1175.3 312.4,1175.8 310.3,1176.4 308.2,1176.9 306.1,1177.4 304.0,1177.9 301.9,1178.4 299.9,1178.9 297.8,1179.4 295.7,1179.9 293.6,1180.3 291.5,1180.8 289.4,1181.3 287.4,1181.7 285.3,1182.2 283.2,1182.6 281.1,1183.1 279.0,1183.6 276.9,1184.0 274.8,1184.5 272.7,1184.9 270.6,1185.4 268.6,1185.8 266.5,1186.3 264.4,1186.7 262.3,1187.2 260.1,1187.6 258.0,1188.1 255.9,1188.5 253.8,1189.0 251.7,1189.4 249.6,1189.9 247.5,1190.3 245.4,1190.8 243.3,1191.2 241.2,1191.7 239.0,1192.1 236.9,1192.5 234.8,1193.0 232.7,1193.4 230.6,1193.9 228.5,1194.3 226.3,1194.7 224.2,1195.2 222.1,1195.6 220.0,1196.0 217.8,1196.5 215.7,1196.9 213.6,1197.3 211.4,1197.7 209.3,1198.2 207.2,1198.6 205.1,1199.0 202.9,1199.4 200.8,1199.9 198.7,1200.3 196.5,1200.7 194.4,1201.1 192.3,1201.5 190.1,1201.9 188.0,1202.3 185.9,1202.8 183.7,1203.2 181.6,1203.6 179.4,1204.0 177.3,1204.4 175.2,1204.8 173.0,1205.2 170.9,1205.6 168.7,1206.0 166.6,1206.4 164.5,1206.8 162.3,1207.2 160.2,1207.6 158.1,1208.0 155.9,1208.3 153.8,1208.7 151.6,1209.1 149.5,1209.5 147.4,1209.9 145.2,1210.3 143.1,1210.6 140.9,1211.0 138.8,1211.4 136.7,1211.8 134.5,1212.1 132.4,1212.5 130.2,1212.9 128.1,1213.2 126.0,1213.6 123.8,1214.0 121.7,1214.3 119.6,1214.7 117.4,1215.0 115.3,1215.4 113.2,1215.7 111.0,1216.1 108.9,1216.4 106.8,1216.8 104.6,1217.1 102.5,1217.5 100.4,1217.8 98.2,1218.1 96.1,1218.5 94.0,1218.8 91.8,1219.1 89.7,1219.5 87.6,1219.8 85.5,1220.1 83.3,1220.4 81.2,1220.7 79.1,1221.1 77.0,1221.4 74.8,1221.7 72.7,1222.0 70.6,1222.3" fill="none" stroke="#00FF00" stroke-width="3.0" stroke-dasharray="3.8 8.9" stroke-linecap="butt" stroke-linejoin="round"/>
<path d="M70.6 708.1L597 1222.3" fill="none" stroke="#0000FF" stroke-width="2.3" stroke-dasharray="10.2 10.78" stroke-dashoffset="0.18" stroke-linecap="butt"/>
<path d="M70.6,708.1 72.2,709.6 73.8,711.1 75.4,712.6 76.9,714.1 78.6,715.6 80.2,717.1 81.8,718.6 83.4,720.0 85.0,721.5 86.7,723.0 88.3,724.4 89.9,725.9 91.6,727.3 93.2,728.8 94.9,730.2 96.5,731.7 98.2,733.1 99.8,734.5 101.5,736.0 103.2,737.4 104.8,738.8 106.5,740.2 108.2,741.6 109.8,743.1 111.5,744.5 113.2,745.9 114.8,747.3 116.5,748.7 118.2,750.2 119.8,751.6 121.5,753.0 123.2,754.4 124.9,755.8 126.5,757.3 128.2,758.7 129.9,760.1 131.5,761.5 133.2,763.0 134.8,764.4 136.5,765.8 138.1,767.3 139.8,768.7 141.4,770.2 143.1,771.6 144.7,773.1 146.3,774.5 147.9,776.0 149.6,777.5 151.2,778.9 152.8,780.4 154.4,781.9 156.0,783.4 157.6,784.9 159.2,786.4 160.8,787.9 162.3,789.4 163.9,790.9 165.5,792.5 167.0,794.0 168.6,795.5 170.1,797.1 171.7,798.6 173.3,800.1 174.8,801.7 176.4,803.2 177.9,804.7 179.5,806.3 181.0,807.8 182.6,809.4 184.2,810.9 185.7,812.4 187.3,813.9 188.9,815.5 190.5,817.0 192.0,818.5 193.6,820.0 195.2,821.5 196.8,823.0 198.5,824.5 200.1,826.0 201.7,827.4 203.3,828.9 204.9,830.4 206.5,831.9 208.2,833.4 209.8,834.8 211.4,836.3 213.0,837.8 214.6,839.3 216.2,840.8 217.8,842.3 219.4,843.7 221.0,845.2 222.6,846.7 224.2,848.2 225.8,849.7 227.3,851.2 228.9,852.8 230.5,854.3 232.0,855.8 233.6,857.3 235.1,858.8 236.7,860.4 238.2,861.9 239.7,863.5 241.3,865.0 242.8,866.6 244.3,868.1 245.8,869.7 247.3,871.2 248.9,872.8 250.4,874.4 251.9,876.0 253.4,877.6 254.9,879.1 256.4,880.7 257.9,882.3 259.3,884.0 260.8,885.6 262.3,887.2 263.8,888.8 265.3,890.4 266.7,892.1 268.2,893.7 269.7,895.3 271.1,897.0 272.6,898.6 274.1,900.3 275.5,901.9 277.0,903.6 278.4,905.2 279.9,906.9 281.3,908.6 282.7,910.2 284.2,911.9 285.6,913.6 287.0,915.3 288.4,917.0 289.8,918.6 291.3,920.3 292.7,922.0 294.1,923.7 295.5,925.4 296.9,927.1 298.3,928.8 299.6,930.5 301.0,932.3 302.4,934.0 303.8,935.7 305.1,937.4 306.5,939.1 307.9,940.9 309.2,942.6 310.6,944.3 311.9,946.0 313.3,947.8 314.6,949.5 316.0,951.2 317.3,953.0 318.6,954.7 319.9,956.5 321.3,958.2 322.6,959.9 323.9,961.7 325.2,963.4 326.5,965.2 327.8,966.9 329.1,968.7 330.4,970.4 331.6,972.2 332.9,973.9 334.2,975.7 335.4,977.5 336.7,979.2 337.9,981.0 339.2,982.8 340.4,984.5 341.6,986.3 342.8,988.1 344.0,989.9 345.2,991.7 346.4,993.5 347.6,995.3 348.8,997.1 349.9,999.0 351.1,1000.8 352.2,1002.6 353.4,1004.5 354.5,1006.3 355.6,1008.2 356.7,1010.1 357.8,1011.9 358.9,1013.8 360.0,1015.7 361.0,1017.6 362.1,1019.5 363.1,1021.4 364.1,1023.4 365.1,1025.3 366.1,1027.3 367.1,1029.2 368.1,1031.2 369.0,1033.2 369.9,1035.2 370.9,1037.2 371.8,1039.3 372.7,1041.3 373.6,1043.3 374.4,1045.4 375.3,1047.5 376.1,1049.6 376.9,1051.7 377.7,1053.8 378.5,1055.9 379.2,1058.1 379.9,1060.2 380.6,1062.3 381.3,1064.5 381.9,1066.6 382.5,1068.8 383.1,1071.0 383.6,1073.2 384.1,1075.3 384.6,1077.5 385.0,1079.7 385.4,1081.9 385.7,1084.0 386.0,1086.2 386.3,1088.4 386.5,1090.5 386.6,1092.7 386.7,1094.9 386.8,1097.0 386.8,1099.2 386.7,1101.3 386.6,1103.4 386.4,1105.6 386.2,1107.7 385.9,1109.8 385.5,1111.9 385.1,1113.9 384.6,1116.0 384.1,1118.1 383.5,1120.1 382.8,1122.1 382.0,1124.1 381.2,1126.1 380.3,1128.1 379.3,1130.0 378.3,1131.9 377.2,1133.8 376.0,1135.6 374.8,1137.4 373.5,1139.2 372.2,1140.9 370.7,1142.6 369.3,1144.2 367.7,1145.7 366.2,1147.2 364.5,1148.6 362.8,1149.9 361.1,1151.2 359.3,1152.5 357.5,1153.7 355.6,1154.8 353.7,1155.9 351.8,1156.9 349.9,1157.9 347.9,1158.9 345.9,1159.8 343.8,1160.7 341.8,1161.6 339.7,1162.5 337.6,1163.3 335.6,1164.1 333.5,1164.9 331.4,1165.6 329.3,1166.4 327.2,1167.1 325.1,1167.8 323.0,1168.5 320.9,1169.2 318.8,1169.9 316.7,1170.6 314.6,1171.2 312.5,1171.9 310.4,1172.5 308.2,1173.1 306.1,1173.8 304.0,1174.4 301.9,1175.0 299.8,1175.5 297.7,1176.1 295.6,1176.7 293.4,1177.3 291.3,1177.8 289.2,1178.3 287.1,1178.9 285.0,1179.4 282.9,1179.9 280.7,1180.5 278.6,1181.0 276.5,1181.5 274.4,1182.0 272.2,1182.5 270.1,1183.0 268.0,1183.4 265.9,1183.9 263.7,1184.4 261.6,1184.9 259.5,1185.3 257.3,1185.8 255.2,1186.3 253.1,1186.8 251.0,1187.2 248.8,1187.7 246.7,1188.1 244.6,1188.6 242.4,1189.1 240.3,1189.5 238.2,1190.0 236.0,1190.5 233.9,1190.9 231.8,1191.4 229.6,1191.9 227.5,1192.3 225.4,1192.8 223.2,1193.3 221.1,1193.8 219.0,1194.2 216.8,1194.7 214.7,1195.2 212.6,1195.7 210.4,1196.2 208.3,1196.7 206.2,1197.2 204.0,1197.7 201.9,1198.2 199.8,1198.7 197.6,1199.1 195.5,1199.6 193.4,1200.1 191.2,1200.6 189.1,1201.1 187.0,1201.6 184.8,1202.1 182.7,1202.6 180.6,1203.1 178.4,1203.6 176.3,1204.1 174.1,1204.6 172.0,1205.0 169.9,1205.5 167.7,1206.0 165.6,1206.5 163.4,1207.0 161.3,1207.4 159.2,1207.9 157.0,1208.4 154.9,1208.8 152.7,1209.3 150.6,1209.8 148.4,1210.2 146.3,1210.7 144.1,1211.1 142.0,1211.5 139.8,1212.0 137.7,1212.4 135.5,1212.8 133.4,1213.2 131.2,1213.7 129.1,1214.1 126.9,1214.5 124.8,1214.9 122.6,1215.3 120.5,1215.6 118.3,1216.0 116.2,1216.4 114.0,1216.8 111.8,1217.1 109.7,1217.5 107.5,1217.8 105.4,1218.1 103.2,1218.5 101.0,1218.8 98.9,1219.1 96.7,1219.4 94.5,1219.7 92.4,1220.0 90.2,1220.3 88.0,1220.5 85.8,1220.8 83.7,1221.0 81.5,1221.3 79.3,1221.5 77.1,1221.7 75.0,1221.9 72.8,1222.1 70.6,1222.3" fill="none" stroke="#000" stroke-width="2.2" stroke-dasharray="12.8 5.6 3 5.2" stroke-linecap="butt" stroke-linejoin="round"/>
<path d="M70.6,708.1 72.0,709.9 73.5,711.8 74.9,713.6 76.4,715.3 77.9,717.0 79.5,718.7 81.0,720.4 82.6,722.1 84.2,723.7 85.9,725.3 87.5,726.9 89.2,728.5 90.9,730.0 92.6,731.6 94.3,733.1 96.0,734.6 97.7,736.1 99.5,737.6 101.2,739.0 103.0,740.5 104.8,741.9 106.6,743.4 108.3,744.8 110.1,746.3 111.9,747.7 113.7,749.1 115.5,750.5 117.3,752.0 119.1,753.4 120.9,754.8 122.7,756.3 124.5,757.7 126.2,759.1 128.0,760.6 129.8,762.0 131.5,763.5 133.3,765.0 135.0,766.5 136.7,768.0 138.4,769.5 140.1,771.0 141.8,772.6 143.4,774.1 145.1,775.7 146.7,777.3 148.3,778.9 149.9,780.6 151.5,782.2 153.1,783.8 154.7,785.5 156.3,787.2 157.8,788.8 159.4,790.5 160.9,792.2 162.5,793.9 164.0,795.5 165.6,797.2 167.2,798.9 168.7,800.6 170.3,802.2 171.9,803.9 173.4,805.6 175.0,807.2 176.6,808.9 178.2,810.5 179.8,812.2 181.4,813.8 183.0,815.4 184.6,817.0 186.2,818.7 187.8,820.3 189.4,821.9 191.1,823.5 192.7,825.2 194.3,826.8 195.9,828.4 197.5,830.0 199.2,831.6 200.8,833.2 202.4,834.8 204.0,836.4 205.7,838.0 207.3,839.7 208.9,841.3 210.5,842.9 212.1,844.5 213.8,846.1 215.4,847.7 217.0,849.4 218.6,851.0 220.2,852.6 221.8,854.2 223.4,855.9 225.0,857.5 226.6,859.1 228.2,860.8 229.8,862.4 231.4,864.1 232.9,865.7 234.5,867.4 236.1,869.1 237.6,870.7 239.2,872.4 240.8,874.1 242.3,875.7 243.9,877.4 245.4,879.1 247.0,880.8 248.5,882.5 250.0,884.2 251.6,885.9 253.1,887.6 254.7,889.3 256.2,891.0 257.7,892.7 259.2,894.4 260.7,896.1 262.3,897.8 263.8,899.5 265.3,901.2 266.8,902.9 268.3,904.7 269.8,906.4 271.3,908.1 272.8,909.8 274.3,911.6 275.8,913.3 277.3,915.0 278.8,916.8 280.3,918.5 281.8,920.2 283.3,922.0 284.7,923.7 286.2,925.5 287.7,927.2 289.2,929.0 290.7,930.7 292.1,932.5 293.6,934.2 295.1,936.0 296.6,937.7 298.0,939.5 299.5,941.2 301.0,943.0 302.4,944.7 303.9,946.5 305.4,948.2 306.8,950.0 308.3,951.8 309.8,953.5 311.2,955.3 312.7,957.0 314.2,958.8 315.6,960.6 317.1,962.3 318.5,964.1 320.0,965.9 321.4,967.6 322.9,969.4 324.3,971.2 325.8,972.9 327.2,974.7 328.6,976.5 330.0,978.3 331.4,980.1 332.8,981.9 334.2,983.7 335.5,985.6 336.9,987.4 338.2,989.3 339.6,991.1 340.9,993.0 342.2,994.8 343.5,996.7 344.7,998.6 346.0,1000.5 347.3,1002.4 348.6,1004.3 349.8,1006.2 351.1,1008.1 352.3,1010.0 353.6,1011.9 354.8,1013.8 356.0,1015.8 357.3,1017.7 358.5,1019.6 359.7,1021.5 361.0,1023.5 362.2,1025.4 363.4,1027.3 364.7,1029.3 365.9,1031.2 367.1,1033.1 368.4,1035.1 369.6,1037.0 370.8,1039.0 372.0,1040.9 373.2,1042.9 374.4,1044.8 375.6,1046.8 376.7,1048.8 377.9,1050.7 379.0,1052.7 380.2,1054.7 381.3,1056.7 382.4,1058.7 383.4,1060.7 384.5,1062.7 385.5,1064.8 386.5,1066.8 387.5,1068.8 388.5,1070.9 389.4,1073.0 390.3,1075.0 391.2,1077.1 392.0,1079.2 392.8,1081.3 393.6,1083.5 394.4,1085.6 395.1,1087.7 395.7,1089.9 396.4,1092.1 397.0,1094.3 397.5,1096.5 398.0,1098.7 398.5,1101.0 399.0,1103.2 399.3,1105.5 399.7,1107.8 400.0,1110.1 400.2,1112.4 400.4,1114.7 400.6,1117.0 400.7,1119.3 400.7,1121.7 400.7,1124.0 400.6,1126.3 400.5,1128.6 400.3,1130.9 400.1,1133.2 399.8,1135.5 399.4,1137.8 399.0,1140.1 398.5,1142.3 397.9,1144.6 397.3,1146.8 396.6,1149.0 395.9,1151.1 395.1,1153.3 394.2,1155.4 393.2,1157.4 392.2,1159.5 391.1,1161.5 389.9,1163.4 388.7,1165.3 387.4,1167.2 386.0,1168.9 384.5,1170.7 383.0,1172.3 381.4,1173.9 379.8,1175.5 378.1,1176.9 376.3,1178.3 374.5,1179.6 372.6,1180.8 370.6,1181.9 368.6,1183.0 366.6,1184.1 364.6,1185.1 362.5,1186.0 360.4,1186.9 358.3,1187.8 356.1,1188.6 354.0,1189.5 351.9,1190.2 349.7,1191.0 347.5,1191.7 345.4,1192.4 343.2,1193.1 341.0,1193.7 338.8,1194.4 336.6,1195.0 334.4,1195.5 332.2,1196.1 330.0,1196.6 327.8,1197.1 325.5,1197.6 323.3,1198.1 321.1,1198.6 318.8,1199.0 316.6,1199.4 314.3,1199.8 312.1,1200.2 309.8,1200.6 307.5,1201.0 305.3,1201.3 303.0,1201.7 300.7,1202.0 298.5,1202.3 296.2,1202.6 293.9,1202.9 291.6,1203.2 289.3,1203.5 287.1,1203.8 284.8,1204.0 282.5,1204.3 280.2,1204.5 277.9,1204.8 275.6,1205.1 273.3,1205.3 271.1,1205.6 268.8,1205.8 266.5,1206.0 264.2,1206.3 261.9,1206.5 259.7,1206.8 257.4,1207.0 255.1,1207.3 252.8,1207.5 250.5,1207.7 248.3,1208.0 246.0,1208.2 243.7,1208.4 241.4,1208.7 239.1,1208.9 236.9,1209.1 234.6,1209.3 232.3,1209.6 230.0,1209.8 227.8,1210.0 225.5,1210.2 223.2,1210.5 220.9,1210.7 218.7,1210.9 216.4,1211.1 214.1,1211.3 211.9,1211.5 209.6,1211.7 207.3,1211.9 205.0,1212.2 202.8,1212.4 200.5,1212.6 198.2,1212.8 195.9,1213.0 193.7,1213.2 191.4,1213.4 189.1,1213.6 186.9,1213.8 184.6,1214.0 182.3,1214.2 180.0,1214.4 177.8,1214.6 175.5,1214.8 173.2,1214.9 171.0,1215.1 168.7,1215.3 166.4,1215.5 164.1,1215.7 161.9,1215.9 159.6,1216.1 157.3,1216.2 155.0,1216.4 152.8,1216.6 150.5,1216.8 148.2,1217.0 145.9,1217.1 143.7,1217.3 141.4,1217.5 139.1,1217.7 136.8,1217.8 134.6,1218.0 132.3,1218.2 130.0,1218.3 127.7,1218.5 125.5,1218.7 123.2,1218.8 120.9,1219.0 118.6,1219.2 116.3,1219.3 114.1,1219.5 111.8,1219.6 109.5,1219.8 107.2,1220.0 104.9,1220.1 102.6,1220.3 100.4,1220.4 98.1,1220.6 95.8,1220.7 93.5,1220.9 91.2,1221.0 88.9,1221.2 86.6,1221.3 84.4,1221.5 82.1,1221.6 79.8,1221.7 77.5,1221.9 75.2,1222.0 72.9,1222.2 70.6,1222.3" fill="none" stroke="#8000FF" stroke-width="2.3" stroke-dasharray="6 3.7" stroke-linecap="butt" stroke-linejoin="round"/>
<path d="M70.6,708.1 72.1,709.2 73.6,710.4 75.1,711.5 76.6,712.6 78.1,713.8 79.6,714.9 81.1,716.0 82.7,717.2 84.2,718.3 85.7,719.4 87.2,720.6 88.7,721.7 90.2,722.8 91.7,724.0 93.2,725.1 94.7,726.3 96.2,727.4 97.7,728.6 99.2,729.7 100.7,730.9 102.2,732.0 103.7,733.2 105.2,734.3 106.7,735.5 108.2,736.6 109.7,737.8 111.2,738.9 112.7,740.1 114.1,741.2 115.6,742.4 117.1,743.6 118.6,744.7 120.1,745.9 121.6,747.1 123.1,748.2 124.5,749.4 126.0,750.6 127.5,751.7 129.0,752.9 130.5,754.1 131.9,755.3 133.4,756.5 134.9,757.6 136.4,758.8 137.8,760.0 139.3,761.2 140.8,762.4 142.2,763.6 143.7,764.8 145.1,766.0 146.6,767.2 148.1,768.4 149.5,769.6 151.0,770.8 152.4,772.0 153.9,773.2 155.3,774.4 156.7,775.7 158.2,776.9 159.6,778.1 161.1,779.3 162.5,780.6 163.9,781.8 165.3,783.0 166.8,784.3 168.2,785.5 169.6,786.7 171.0,788.0 172.5,789.2 173.9,790.5 175.3,791.7 176.7,793.0 178.1,794.2 179.5,795.5 180.9,796.8 182.3,798.0 183.7,799.3 185.1,800.6 186.5,801.9 187.8,803.2 189.2,804.4 190.6,805.7 192.0,807.0 193.3,808.3 194.7,809.6 196.1,810.9 197.4,812.2 198.8,813.5 200.2,814.8 201.5,816.1 202.9,817.4 204.2,818.8 205.6,820.1 206.9,821.4 208.3,822.7 209.6,824.0 211.0,825.4 212.3,826.7 213.6,828.0 215.0,829.4 216.3,830.7 217.6,832.0 219.0,833.4 220.3,834.7 221.6,836.1 222.9,837.4 224.3,838.7 225.6,840.1 226.9,841.4 228.2,842.8 229.6,844.1 230.9,845.5 232.2,846.8 233.5,848.2 234.8,849.6 236.1,850.9 237.4,852.3 238.8,853.6 240.1,855.0 241.4,856.4 242.7,857.7 244.0,859.1 245.3,860.4 246.6,861.8 247.9,863.2 249.2,864.5 250.5,865.9 251.8,867.3 253.1,868.6 254.4,870.0 255.7,871.4 257.0,872.7 258.3,874.1 259.6,875.5 261.0,876.8 262.3,878.2 263.5,879.6 264.8,881.0 266.1,882.3 267.4,883.7 268.7,885.1 270.0,886.5 271.3,887.8 272.6,889.2 273.9,890.6 275.2,892.0 276.5,893.4 277.7,894.8 279.0,896.2 280.3,897.5 281.6,898.9 282.9,900.3 284.1,901.7 285.4,903.1 286.7,904.5 287.9,905.9 289.2,907.3 290.4,908.7 291.7,910.1 293.0,911.6 294.2,913.0 295.4,914.4 296.7,915.8 297.9,917.2 299.2,918.7 300.4,920.1 301.6,921.5 302.9,922.9 304.1,924.4 305.3,925.8 306.5,927.3 307.7,928.7 308.9,930.2 310.1,931.6 311.3,933.1 312.5,934.5 313.7,936.0 314.9,937.5 316.1,938.9 317.3,940.4 318.4,941.9 319.6,943.4 320.8,944.8 321.9,946.3 323.1,947.8 324.2,949.3 325.4,950.8 326.5,952.3 327.6,953.8 328.8,955.4 329.9,956.9 331.0,958.4 332.1,959.9 333.2,961.5 334.3,963.0 335.4,964.5 336.5,966.1 337.5,967.6 338.6,969.2 339.7,970.8 340.7,972.3 341.8,973.9 342.8,975.5 343.8,977.1 344.8,978.7 345.8,980.2 346.8,981.8 347.8,983.4 348.8,985.1 349.8,986.7 350.7,988.3 351.7,989.9 352.6,991.5 353.6,993.2 354.5,994.8 355.4,996.5 356.3,998.1 357.2,999.8 358.0,1001.5 358.9,1003.1 359.8,1004.8 360.6,1006.5 361.4,1008.2 362.2,1009.9 363.0,1011.6 363.8,1013.3 364.6,1015.0 365.3,1016.7 366.1,1018.5 366.8,1020.2 367.5,1022.0 368.2,1023.7 368.9,1025.5 369.6,1027.2 370.2,1029.0 370.9,1030.8 371.5,1032.6 372.1,1034.3 372.7,1036.1 373.3,1038.0 373.8,1039.8 374.4,1041.6 374.9,1043.4 375.4,1045.3 375.9,1047.1 376.4,1048.9 376.9,1050.8 377.3,1052.6 377.7,1054.5 378.1,1056.4 378.5,1058.2 378.9,1060.1 379.2,1062.0 379.5,1063.9 379.8,1065.8 380.1,1067.6 380.4,1069.5 380.6,1071.4 380.8,1073.3 381.0,1075.2 381.2,1077.1 381.3,1079.0 381.5,1080.9 381.6,1082.8 381.6,1084.7 381.7,1086.6 381.7,1088.5 381.7,1090.4 381.7,1092.3 381.7,1094.2 381.6,1096.0 381.5,1097.9 381.4,1099.8 381.2,1101.7 381.1,1103.6 380.9,1105.4 380.6,1107.3 380.4,1109.2 380.1,1111.0 379.8,1112.9 379.4,1114.7 379.1,1116.6 378.7,1118.4 378.3,1120.2 377.8,1122.1 377.3,1123.9 376.8,1125.7 376.3,1127.5 375.7,1129.3 375.1,1131.0 374.5,1132.8 373.8,1134.6 373.2,1136.3 372.5,1138.1 371.7,1139.8 371.0,1141.5 370.2,1143.2 369.4,1144.9 368.5,1146.6 367.7,1148.3 366.8,1149.9 365.9,1151.6 365.0,1153.2 364.0,1154.8 363.0,1156.4 362.0,1158.0 361.0,1159.5 359.9,1161.1 358.8,1162.6 357.7,1164.1 356.6,1165.6 355.4,1167.0 354.3,1168.5 353.1,1169.9 351.8,1171.3 350.6,1172.7 349.3,1174.1 348.0,1175.5 346.7,1176.8 345.4,1178.1 344.0,1179.4 342.7,1180.6 341.3,1181.9 339.9,1183.1 338.4,1184.3 337.0,1185.4 335.5,1186.6 334.0,1187.7 332.5,1188.8 330.9,1189.8 329.4,1190.9 327.8,1191.9 326.2,1192.9 324.6,1193.8 323.0,1194.8 321.3,1195.7 319.7,1196.6 318.0,1197.5 316.3,1198.3 314.6,1199.2 312.9,1200.0 311.2,1200.8 309.4,1201.6 307.7,1202.3 305.9,1203.0 304.1,1203.7 302.3,1204.4 300.6,1205.1 298.7,1205.8 296.9,1206.4 295.1,1207.0 293.3,1207.6 291.5,1208.2 289.6,1208.7 287.8,1209.3 285.9,1209.8 284.1,1210.3 282.2,1210.8 280.3,1211.3 278.5,1211.7 276.6,1212.2 274.7,1212.6 272.8,1213.0 271.0,1213.4 269.1,1213.8 267.2,1214.2 265.3,1214.5 263.4,1214.9 261.5,1215.2 259.6,1215.6 257.7,1215.9 255.8,1216.2 253.9,1216.5 252.0,1216.8 250.1,1217.0 248.3,1217.3 246.4,1217.6 244.5,1217.8 242.6,1218.1 240.7,1218.3 238.8,1218.6 236.9,1218.8 235.1,1219.0 233.2,1219.2 231.3,1219.4 229.5,1219.6 227.6,1219.9 225.7,1220.1 223.9,1220.3 222.0,1220.5 220.2,1220.6 218.4,1220.8 216.5,1221.0 214.7,1221.2 212.9,1221.4 211.1,1221.6 209.3,1221.8 207.5,1222.0 205.7,1222.2" fill="none" stroke="#EE3A3A" stroke-width="2.1" stroke-linecap="butt" stroke-linejoin="round"/>
<path d="M386.7 753L401.3 744.4L401.3 761.6Z" fill="#FF00FF"/>
<path d="M369.2 782.3L422 782.3" fill="none" stroke="#00FFFF" stroke-width="2.6" stroke-dasharray="10.6 4.9 3.7 4.5 4.4 4.7" stroke-linecap="butt"/>
<path d="M369.2 812.2L423.5 812.2" fill="none" stroke="#00FF00" stroke-width="3.0" stroke-dasharray="3.8 8.9" stroke-linecap="butt"/>
<path d="M369.2 842L423 842" fill="none" stroke="#0000FF" stroke-width="2.3" stroke-dasharray="10.7 10.8" stroke-linecap="butt"/>
<path d="M369.2 870.9L419 870.9" fill="none" stroke="#000" stroke-width="2.2" stroke-dasharray="12.8 5.6 3 5.2" stroke-linecap="butt"/>
<path d="M369.2 900.7L423.3 900.7" fill="none" stroke="#8000FF" stroke-width="2.3" stroke-dasharray="6 3.7" stroke-linecap="butt"/>
<path d="M369.2 930.7L423.3 930.7" fill="none" stroke="#EE3A3A" stroke-width="2.1" stroke-linecap="butt"/>
</svg>
</body></html>
